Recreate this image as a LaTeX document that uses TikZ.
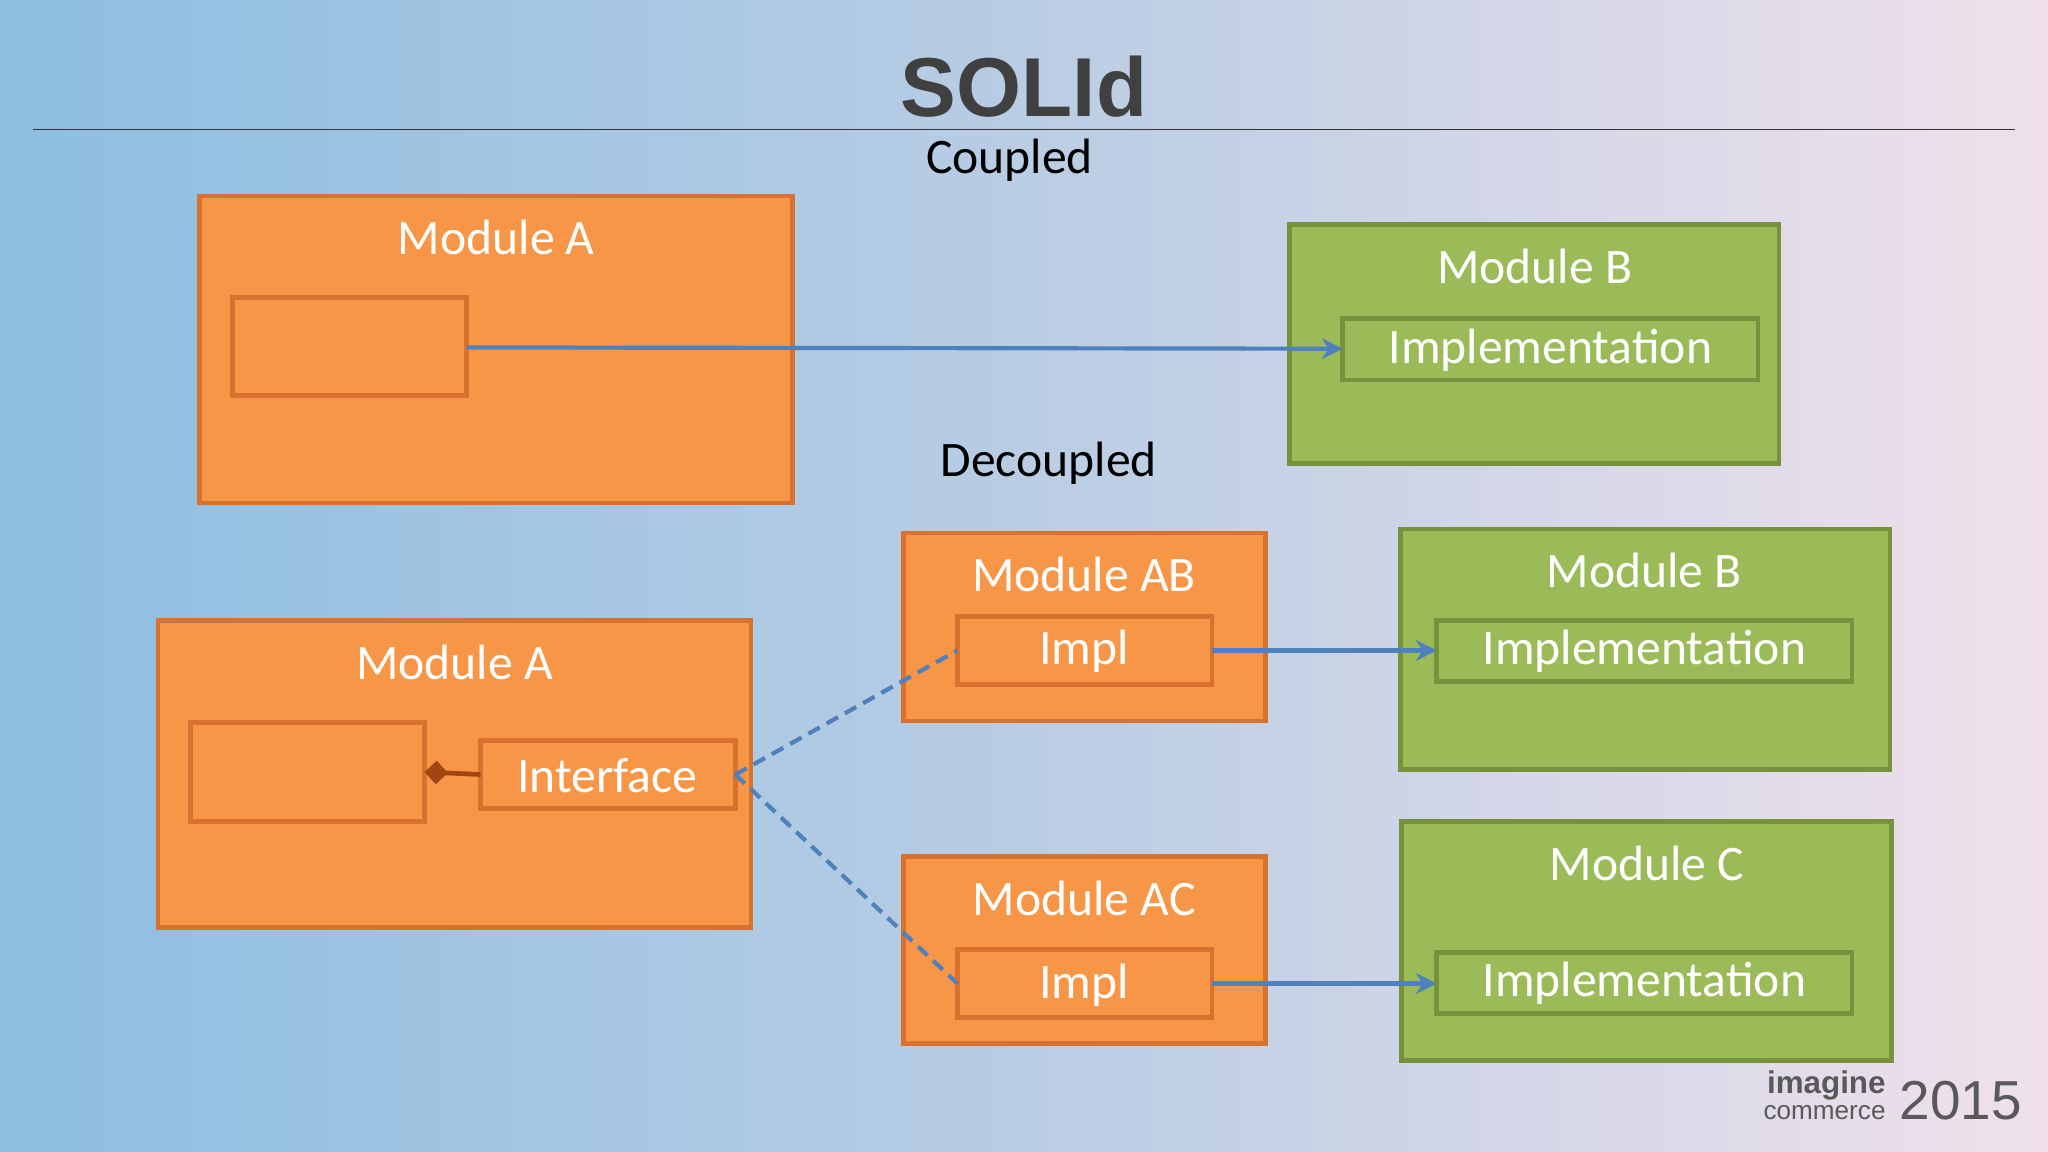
\documentclass[tikz,border=0pt]{standalone}
\usepackage{fontspec}
\setmainfont{Carlito}
\newfontfamily\heros{Liberation Sans}
\usetikzlibrary{arrows.meta}
\definecolor{ofill}{HTML}{F79646}
\definecolor{oline}{HTML}{D9722E}
\definecolor{gfill}{HTML}{9BBB59}
\definecolor{gline}{HTML}{76923C}
\definecolor{ablue}{HTML}{4F81BD}
\begin{document}
\begin{tikzpicture}[x=0.5pt,y=-0.5pt,
 obox/.style={draw=oline,fill=ofill,line width=1.8pt},
 gbox/.style={draw=gline,fill=gfill,line width=1.8pt},
 lbl/.style={text=white,font=\fontsize{19}{22}\selectfont},
 con/.style={draw=ablue,line width=1.6pt,-{Stealth[length=8pt,width=8pt]}},
 dcon/.style={draw=ablue,line width=1.6pt,dash pattern=on 5pt off 3pt}]
\useasboundingbox (0,0) rectangle (1568,882);
\shade[left color={rgb,255:red,140;green,190;blue,225},right color={rgb,255:red,240;green,225;blue,235},middle color={rgb,255:red,185;green,205;blue,228}] (0,0) rectangle (1568,882);
\draw[line width=0.6pt,black!80] (25,99) -- (1543,99);
\node[font=\heros\bfseries\fontsize{32}{36}\selectfont,text=black!75] (title) at (784,66) {SOLId};
\node[font=\fontsize{19}{22}\selectfont] (cp) at (773,123) {Coupled};
\node[font=\fontsize{19}{22}\selectfont] (dc) at (803,355) {Decoupled};
% coupled
\draw[obox] (153,150) rectangle (607,385);
\node[lbl] (ma1) at (380,182) {Module A};
\draw[obox] (178,228) rectangle (357,303);
\coordinate (in1) at (357,266);
\draw[gbox] (987,172) rectangle (1362,355);
\node[lbl] (mb1) at (1175,204) {Module B};
\draw[draw=gline,line width=1.8pt] (1028,244) rectangle (1346,291);
\node[lbl] (imp1) at (1187,268) {Implementation};
\coordinate (im1w) at (1028,267);
\draw[con] (in1) -- (im1w);
% decoupled
\draw[obox] (121,475) rectangle (575,710);
\node[lbl] (ma2) at (348,507) {Module A};
\draw[obox] (146,553) rectangle (325,629);
\draw[obox] (368,567) rectangle (563,619);
\node[lbl] (iface) at (465,594) {Interface};
\coordinate (ibe) at (325,591);
\coordinate (ifw) at (368,593);
\coordinate (ife) at (563,593);
\draw[obox] (692,408) rectangle (969,552);
\node[lbl] (mab) at (830,440) {Module AB};
\draw[obox] (733,472) rectangle (928,524);
\node[lbl] (iab) at (830,499) {Impl};
\draw[obox] (692,656) rectangle (969,799);
\node[lbl] (mac) at (830,688) {Module AC};
\draw[obox] (733,727) rectangle (928,779);
\node[lbl] (iac) at (830,754) {Impl};
\draw[gbox] (1072,405) rectangle (1447,589);
\node[lbl] (mb2) at (1259,437) {Module B};
\draw[draw=gline,line width=1.8pt] (1100,475) rectangle (1418,522);
\node[lbl] (imp2) at (1259,499) {Implementation};
\draw[gbox] (1073,629) rectangle (1448,812);
\node[lbl] (mc) at (1261,661) {Module C};
\draw[draw=gline,line width=1.8pt] (1100,729) rectangle (1418,776);
\node[lbl] (imp3) at (1259,753) {Implementation};
\coordinate (iabw) at (733,498); \coordinate (iabe) at (928,498);
\coordinate (iacw) at (733,753); \coordinate (iace) at (928,753);
\coordinate (i2w) at (1100,498); \coordinate (i3w) at (1100,753);
\draw[con] (iabe) -- (i2w);
\draw[con] (iace) -- (i3w);
\draw[dcon] (ife) -- (iabw);
\draw[dcon] (ife) -- (iacw);
\draw[draw={rgb,255:red,160;green,70;blue,20},line width=1.8pt,{Diamond[length=9pt,width=9pt,fill={rgb,255:red,160;green,70;blue,20}]}-] (ibe) -- (ifw);
% logo
\node[font=\heros\bfseries\fontsize{12}{12}\selectfont,text=black!65,anchor=south east,inner sep=1pt] (lg1) at (1446,845) {imagine};
\node[font=\heros\fontsize{10}{10}\selectfont,text=black!65,anchor=north east,inner sep=1pt] (lg2) at (1446,844) {commerce};
\node[font=\heros\fontsize{21}{21}\selectfont,text=black!65,anchor=west,inner sep=1pt] (lg3) at (1452,843) {2015};
\end{tikzpicture}
\end{document}
